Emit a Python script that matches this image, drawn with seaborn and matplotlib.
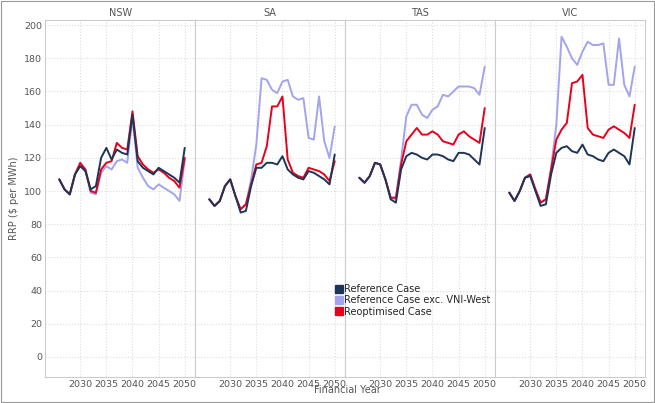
import matplotlib
matplotlib.use("Agg")
import matplotlib.pyplot as plt
import seaborn as sns
import pandas as pd

years = list(range(2026, 2051))
regions = ["NSW", "SA", "TAS", "VIC"]
series = ["Reference Case", "Reference Case exc. VNI-West", "Reoptimised Case"]

nsw_ref = [107,101,98,110,115,112,101,103,120,126,119,125,123,122,146,118,114,112,110,114,112,110,108,105,126]
nsw_red = [107,101,98,110,117,113,100,99,113,117,118,129,126,125,148,121,116,113,111,113,111,108,106,102,120]
nsw_lav = [107,101,98,110,116,112,99,98,111,115,113,118,119,117,144,114,108,103,101,104,102,100,98,94,119]
sa_ref = [95,91,94,103,107,97,87,88,103,114,114,117,117,116,121,113,110,108,107,112,111,109,107,104,122]
sa_red = [95,91,94,103,107,97,89,92,104,116,117,127,151,151,157,119,111,109,108,114,113,112,110,106,118]
sa_lav = [95,91,94,103,107,97,89,92,107,128,168,167,161,159,166,167,157,155,156,132,131,157,130,120,139]
tas_ref = [108,105,109,117,116,107,95,93,113,121,123,122,120,119,122,122,121,119,118,123,123,122,119,116,138]
tas_red = [108,105,109,117,116,107,96,96,116,130,134,138,134,134,136,134,130,129,128,134,136,133,131,129,150]
tas_lav = [108,105,109,117,116,107,96,95,119,145,152,152,146,144,149,151,158,157,160,163,163,163,162,158,175]
vic_ref = [99,94,100,108,109,100,91,92,110,123,126,127,124,123,128,122,121,119,118,123,125,123,121,116,138]
vic_red = [99,94,100,108,110,101,93,95,113,131,137,141,165,166,170,138,134,133,132,137,139,137,135,132,152]
vic_lav = [99,94,100,108,110,101,93,95,114,140,193,187,180,176,184,190,188,188,189,164,164,192,164,157,175]

data = {
    "NSW": (nsw_ref, nsw_lav, nsw_red),
    "SA": (sa_ref, sa_lav, sa_red),
    "TAS": (tas_ref, tas_lav, tas_red),
    "VIC": (vic_ref, vic_lav, vic_red),
}
rows = []
for r in regions:
    for s, vals in zip(series, data[r]):
        for y, v in zip(years, vals):
            rows.append({"Region": r, "Series": s, "Year": y, "RRP": v})
df = pd.DataFrame(rows)

palette = {"Reference Case": "#1d3557", "Reference Case exc. VNI-West": "#a3a3f0", "Reoptimised Case": "#e8001c"}
order = ["Reference Case exc. VNI-West", "Reoptimised Case", "Reference Case"]

sns.set_style("white")
plt.rcParams['font.family'] = ['DejaVu Sans']
fig, axes = plt.subplots(1, 4, figsize=(6.55, 4.03), dpi=100, sharey=True)
fig.subplots_adjust(left=0.069, right=0.985, top=0.95, bottom=0.065, wspace=0)

for ax, r in zip(axes, regions):
    sub = df[df.Region == r]
    for s in order:
        ss = sub[sub.Series == s]
        sns.lineplot(data=ss, x="Year", y="RRP", color=palette[s], ax=ax, linewidth=1.4, label=None)
    ax.set_xlim(2023.3, 2052)
    ax.set_ylim(-12, 203)
    ax.set_xticks([2030, 2035, 2040, 2045, 2050])
    ax.set_yticks(range(0, 201, 20))
    ax.grid(True, color="#dddddd", linestyle=":", linewidth=0.8)
    ax.tick_params(labelsize=6.8, colors="#555555", length=0, pad=2)
    ax.set_xlabel("")
    ax.set_ylabel("")
    ax.set_title(r, fontsize=7, color="#555555", pad=3)
    for sp in ax.spines.values():
        sp.set_color("#cccccc")
        sp.set_linewidth(0.8)

axes[0].set_ylabel("RRP ($ per MWh)", fontsize=7, color="#555555")
fig.text(0.53, 0.025, "Financial Year", ha="center", fontsize=7, color="#555555")

from matplotlib.lines import Line2D
handles = [Line2D([], [], color=palette[s], marker="s", linestyle="none", markersize=6) for s in series]
fig.legend(handles, series, loc="upper left", bbox_to_anchor=(0.505, 0.305), frameon=False,
           fontsize=7, handletextpad=0.2, borderaxespad=0, labelspacing=0.15, handlelength=0.8)

fig.patches.append(plt.Rectangle((0.002, 0.002), 0.996, 0.996, transform=fig.transFigure,
                                 fill=False, edgecolor="#999999", linewidth=0.8))
fig.savefig("out.png", dpi=100)
